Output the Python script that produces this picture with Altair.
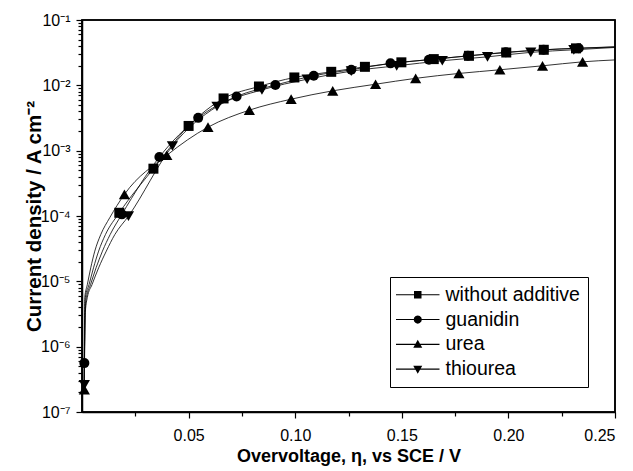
import altair as alt
import pandas as pd

series_names = ["without additive", "guanidin", "urea", "thiourea"]

# ---- measured points (overvoltage V, current density A/cm2) ----
wa_v = [0.0175, 0.0335, 0.0500, 0.0664, 0.0830, 0.0996, 0.1169, 0.1327, 0.1498, 0.1650, 0.1815, 0.1990, 0.2166, 0.2317]
wa_j = [1.12e-4, 5.3e-4, 2.39e-3, 6.3e-3, 9.6e-3, 1.32e-2, 1.61e-2, 1.92e-2, 2.25e-2, 2.52e-2, 2.83e-2, 3.18e-2, 3.5e-2, 3.68e-2]

gu_v = [0.0011, 0.0187, 0.0363, 0.0545, 0.0725, 0.0907, 0.1087, 0.1263, 0.1447, 0.1627, 0.1810, 0.1988, 0.2165, 0.2330]
gu_j = [5.6e-7, 1.06e-4, 8.0e-4, 3.18e-3, 6.76e-3, 1.01e-2, 1.40e-2, 1.73e-2, 2.17e-2, 2.46e-2, 2.83e-2, 3.2e-2, 3.5e-2, 3.7e-2]

ur_v = [0.0011, 0.0199, 0.0398, 0.0591, 0.0785, 0.0981, 0.1176, 0.1377, 0.1565, 0.1768, 0.1960, 0.2160, 0.2348]
ur_j = [2.2e-7, 2.14e-4, 8.5e-4, 2.29e-3, 4.17e-3, 6.14e-3, 8.24e-3, 1.04e-2, 1.28e-2, 1.52e-2, 1.73e-2, 1.99e-2, 2.29e-2]

th_v = [0.0011, 0.0218, 0.0424, 0.0633, 0.0844, 0.1056, 0.1263, 0.1476, 0.1690, 0.1902, 0.2105, 0.2307]
th_j = [2.6e-7, 9.95e-5, 1.18e-3, 4.74e-3, 8.53e-3, 1.24e-2, 1.65e-2, 1.99e-2, 2.38e-2, 2.73e-2, 3.2e-2, 3.5e-2]

# ---- fitted curves ----
wa_fit_v = [0.0010, 0.0012, 0.0014, 0.0016, 0.0033, 0.0054, 0.0078, 0.0110, 0.0175, 0.0335, 0.0500, 0.0664, 0.0830, 0.0996, 0.1169, 0.1327, 0.1498, 0.1650, 0.1815, 0.1990, 0.2166, 0.2317, 0.2500]
wa_fit_j = [2.4e-7, 1.2e-6, 3.5e-6, 5.65e-6, 8.9e-6, 1.61e-5, 2.9e-5, 5.2e-5, 1.12e-4, 5.3e-4, 2.39e-3, 6.3e-3, 9.6e-3, 1.32e-2, 1.61e-2, 1.92e-2, 2.25e-2, 2.52e-2, 2.83e-2, 3.18e-2, 3.5e-2, 3.68e-2, 3.9e-2]

gu_fit_v = [0.0011, 0.0013, 0.0015, 0.0021, 0.0040, 0.0066, 0.0096, 0.0132, 0.0187, 0.0363, 0.0545, 0.0725, 0.0907, 0.1087, 0.1263, 0.1447, 0.1627, 0.1810, 0.1988, 0.2165, 0.2330, 0.2500]
gu_fit_j = [5.6e-7, 1.3e-6, 3.5e-6, 5.65e-6, 8.9e-6, 1.61e-5, 2.9e-5, 5.2e-5, 1.06e-4, 8.0e-4, 3.18e-3, 6.76e-3, 1.01e-2, 1.40e-2, 1.73e-2, 2.17e-2, 2.46e-2, 2.83e-2, 3.2e-2, 3.5e-2, 3.7e-2, 3.85e-2]

ur_fit_v = [0.0010, 0.0011, 0.0012, 0.0013, 0.0025, 0.0041, 0.0060, 0.0088, 0.0130, 0.0199, 0.0398, 0.0591, 0.0785, 0.0981, 0.1176, 0.1377, 0.1565, 0.1768, 0.1960, 0.2160, 0.2348, 0.2500]
ur_fit_j = [2.2e-7, 1.0e-6, 3.0e-6, 5.65e-6, 8.9e-6, 1.61e-5, 2.9e-5, 5.2e-5, 9.4e-5, 2.14e-4, 8.5e-4, 2.29e-3, 4.17e-3, 6.14e-3, 8.24e-3, 1.04e-2, 1.28e-2, 1.52e-2, 1.73e-2, 1.99e-2, 2.29e-2, 2.45e-2]

th_fit_v = [0.0011, 0.0013, 0.0016, 0.0025, 0.0047, 0.0078, 0.0114, 0.0154, 0.0218, 0.0424, 0.0633, 0.0844, 0.1056, 0.1263, 0.1476, 0.1690, 0.1902, 0.2105, 0.2307, 0.2500]
th_fit_j = [2.6e-7, 1.2e-6, 3.5e-6, 5.65e-6, 8.9e-6, 1.61e-5, 2.9e-5, 5.2e-5, 9.95e-5, 1.18e-3, 4.74e-3, 8.53e-3, 1.24e-2, 1.65e-2, 1.99e-2, 2.38e-2, 2.73e-2, 3.2e-2, 3.5e-2, 3.8e-2]

# ---- axis ranges and ticks (major + minor) ----
x_range = [0.0, 0.25]
y_range = [1e-7, 1e-1]
x_ticks = [0.025, 0.05, 0.075, 0.10, 0.125, 0.15, 0.175, 0.20, 0.225, 0.25]
y_ticks = [m * 10.0 ** e for e in range(-7, -1) for m in range(1, 10)] + [1e-1]

FONT = "Liberation Sans"
W, H = 533, 392

pts = {
    "without additive": (wa_v, wa_j, "square", 100),
    "guanidin": (gu_v, gu_j, "circle", 100),
    "urea": (ur_v, ur_j, "triangle-up", 125),
    "thiourea": (th_v, th_j, "triangle-down", 125),
}
fits = {
    "without additive": (wa_fit_v, wa_fit_j),
    "guanidin": (gu_fit_v, gu_fit_j),
    "urea": (ur_fit_v, ur_fit_j),
    "thiourea": (th_fit_v, th_fit_j),
}

rows = []
for name, (vs, js) in fits.items():
    for i, (v, j) in enumerate(zip(vs, js)):
        rows.append({"series": name, "v": v, "j": j, "k": i})
fit_df = pd.DataFrame(rows)

xscale = alt.Scale(domain=x_range, nice=False, zero=False)
yscale = alt.Scale(type="log", domain=y_range, nice=False)

x_major_test = "round(datum.value*1000) % 50 == 0"
y_major_test = "abs(log(datum.value)/LN10 - round(log(datum.value)/LN10)) < 1e-6"

sup = "{'-1':'⁻¹','-2':'⁻²','-3':'⁻³','-4':'⁻⁴','-5':'⁻⁵','-6':'⁻⁶','-7':'⁻⁷'}"
y_label_expr = ("(" + y_major_test + ") ? '10' + " + sup +
                "['' + round(log(datum.value)/LN10)] : ''")
x_label_expr = "(" + x_major_test + ") ? format(datum.value, '.2f') : ''"

common_axis = dict(
    labelFont=FONT, titleFont=FONT, labelColor="black", titleColor="black",
    domainColor="black", tickColor="black", domainWidth=1.5, tickWidth=1.2,
    grid=False, labelFontSize=16, titleFontWeight="bold",
)

lines = alt.Chart(fit_df).mark_line(
    color="black", strokeWidth=0.8, interpolate="monotone"
).encode(
    x=alt.X("v:Q", scale=xscale, axis=alt.Axis(
        values=x_ticks, labelExpr=x_label_expr,
        tickSize={"condition": {"test": x_major_test, "value": 6}, "value": 4},
        labelPadding=9, labelFlush=True, labelOverlap=False,
        title="Overvoltage, η, vs SCE / V", titlePadding=4, titleFontSize=18,
        orient="bottom", **common_axis)),
    y=alt.Y("j:Q", scale=yscale, axis=alt.Axis(
        values=y_ticks, labelExpr=y_label_expr,
        tickSize={"condition": {"test": y_major_test, "value": 6}, "value": 4},
        labelPadding=6, labelFlush=False, labelOverlap=False,
        title="Current density / A cm⁻²", titlePadding=-4, titleFontSize=20.5,
        orient="left", **common_axis)),
    detail="series:N",
    order="k:Q",
)

point_layers = []
for name, (vs, js, shp, sz) in pts.items():
    d = pd.DataFrame({"v": vs, "j": js, "series": name})
    point_layers.append(
        alt.Chart(d).mark_point(shape=shp, filled=True, color="black", opacity=1, size=sz).encode(
            x=alt.X("v:Q", scale=xscale),
            y=alt.Y("j:Q", scale=yscale),
        )
    )

# plot frame drawn as an outline around the whole plot area (layout, not data)
frame = alt.Chart(pd.DataFrame({"f": [0]})).mark_rect(
    fillOpacity=0, stroke="black", strokeWidth=1.6
).encode(
    x=alt.value(0), x2=alt.value(W), y=alt.value(0), y2=alt.value(H),
)

# legend symbols: a thin bar (the line) with the marker on it (all clockwise)
bar = "M-2.9,-0.07H2.9V0.07H-2.9Z"
legend_paths = [
    bar + "M-0.5,-0.5H0.5V0.5H-0.5Z",
    bar + "M0.55,0L0.476,0.275L0.275,0.476L0,0.55L-0.275,0.476L-0.476,0.275L-0.55,0L-0.476,-0.275L-0.275,-0.476L0,-0.55L0.275,-0.476L0.476,-0.275Z",
    bar + "M0,-0.6L0.6,0.45L-0.6,0.45Z",
    bar + "M0,0.6L-0.6,-0.45L0.6,-0.45Z",
]
leg_df = pd.DataFrame({"series": series_names, "v": [None] * 4, "j": [None] * 4})
legend_layer = alt.Chart(leg_df).mark_point(
    filled=True, color="black", opacity=1, size=225
).encode(
    x=alt.X("v:Q", scale=xscale),
    y=alt.Y("j:Q", scale=yscale),
    shape=alt.Shape("series:N", scale=alt.Scale(domain=series_names, range=legend_paths),
                    legend=alt.Legend(
                        title=None, orient="none", legendX=308, legendY=257,
                        strokeColor="black", fillColor="white", padding=8,
                        labelFont=FONT, labelFontSize=19.5, labelColor="black",
                        labelExpr="datum.label + ' '",
                        symbolSize=225, symbolFillColor="black",
                        symbolOffset=10, labelOffset=18,
                        rowPadding=3.8, labelLimit=300)),
)

chart = alt.layer(lines, *point_layers, legend_layer, frame).properties(
    width=W, height=H,
    padding={"left": 74, "top": 12, "right": 10, "bottom": 57},
    autosize=alt.AutoSizeParams(type="none"),
    background="white",
).configure_view(stroke="black", strokeWidth=1.5)

chart.save("out.html", embed_options={"renderer": "svg", "actions": False})
